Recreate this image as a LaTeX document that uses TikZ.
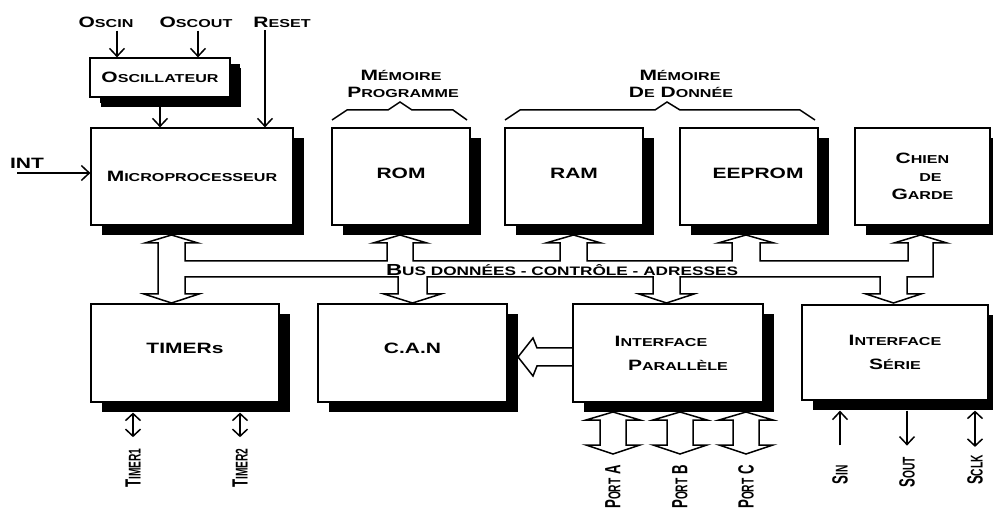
\documentclass[tikz,border=0pt]{standalone}
\usepackage{fontspec}
\setmainfont{Liberation Sans}
\newfontfamily\wf{Liberation Sans}[FakeStretch=1.4]
\newfontfamily\nf{Liberation Sans}[FakeStretch=0.6]
\usetikzlibrary{arrows.meta,shadows}
\newcommand\sm[1]{{\fontsize{11.5}{14}\selectfont #1}}
\newcommand\bsm[1]{{\fontsize{12.3}{14}\selectfont #1}}
\newcommand\nsm[1]{{\fontsize{17}{20}\selectfont #1}}
\tikzset{
  txt/.style={font=\wf\bfseries\fontsize{15}{18}\selectfont, inner sep=0pt},
  rot/.style={font=\nf\bfseries\fontsize{22}{24}\selectfont, inner sep=0pt, rotate=90},
  box/.style={txt, draw, line width=1.2pt, fill=white, align=center,
    drop shadow={shadow xshift=11pt, shadow yshift=-10pt, opacity=1, fill=black}},
  pipe/.style={line width=1.5pt, line join=miter},
  brace/.style={line width=1.5pt},
  arr/.style={line width=1.5pt, -{Straight Barb[length=8pt,width=15pt,line width=1.5pt]}},
  darr/.style={line width=1.5pt, {Straight Barb[length=7pt,width=15pt,line width=1.5pt]}-{Straight Barb[length=7pt,width=15pt,line width=1.5pt]}},
}
\begin{document}
\begin{tikzpicture}[x=1pt,y=-1pt]
\useasboundingbox (0,0) rectangle (993,510);

% boxes
\node[box, minimum width=140pt, minimum height=39pt,
      drop shadow={shadow xshift=10pt, shadow yshift=-6pt, opacity=1, fill=black}] (osc) at (160,77.5) {O\sm{SCILLATEUR}};
\node[box, minimum width=202pt, minimum height=97pt] (mp) at (192,176.5) {M\sm{ICROPROCESSEUR}};
\node[box, minimum width=138pt, minimum height=97pt] (rom) at (401,176.5) {\raisebox{6pt}{ROM}};
\node[box, minimum width=138pt, minimum height=97pt] (ram) at (574,176.5) {\raisebox{6pt}{RAM}};
\node[box, minimum width=138pt, minimum height=97pt] (eeprom) at (749,176.5) {\hspace*{18pt}\raisebox{6pt}{EEPROM}};
\node[box, minimum width=135pt, minimum height=97pt] (chien) at (922.5,176.5) {C\sm{HIEN}\\[0pt]\hspace*{16pt}\sm{DE}\\[0pt]G\sm{ARDE}};
\node[box, minimum width=188pt, minimum height=98pt] (timers) at (185,353) {\raisebox{10pt}{TIMERs}};
\node[box, minimum width=189pt, minimum height=98pt] (can) at (412.5,353) {\raisebox{10pt}{C.A.N}};
\node[box, minimum width=190pt, minimum height=98pt] (par) at (668,353) {I\sm{NTERFACE}\hspace*{14pt}\\[6pt]\hspace*{20pt}P\sm{ARALLÈLE}};
\node[box, minimum width=186pt, minimum height=95pt] (serie) at (895,352.5) {I\sm{NTERFACE}\\[6pt]S\sm{ÉRIE}};

% top labels
\node[txt] (oscin) at (106,22) {O\sm{SCIN}};
\node[txt] (oscout) at (196,22) {O\sm{SCOUT}};
\node[txt] (reset) at (282,22) {R\sm{ESET}};
\node[txt] (int) at (27,163) {INT};
\node[txt] (memp1) at (401,75) {M\sm{ÉMOIRE}};
\node[txt] (memp2) at (403,92) {P\sm{ROGRAMME}};
\node[txt] (memd1) at (680,75) {M\sm{ÉMOIRE}};
\node[txt] (memd2) at (681,92) {D\sm{E} D\sm{ONNÉE}};

% braces
\draw[brace] (332,120) -- (347,110) -- (388,110) -- (400,102) -- (412,110) -- (453,110) -- (467,120);
\draw[brace] (505,120) -- (520,110) -- (655,110) -- (667,102) -- (680,110) -- (800,110) -- (815,120);

% thin arrows at top
\draw[arr] ([xshift=11pt,yshift=-3pt]oscin.south) -- ([xshift=-43pt]osc.north);
\draw[arr] ([xshift=2pt,yshift=-3pt]oscout.south) -- ([xshift=38pt]osc.north);
\draw[arr] ([xshift=-17pt,yshift=-3pt]reset.south) -- ([xshift=73pt]mp.north);
\draw[arr] ([yshift=-5pt]osc.south) -- (osc.south |- mp.north);
\coordinate (intstart) at (17,173);
\draw[arr] (intstart) -- ([yshift=3.5pt]mp.west);

% bus pipe
\draw[pipe] (158,243) -- (145,243) -- (171.5,235) -- (198,243) -- (185,243) -- (185,261)
  -- (387,261) -- (387,243) -- (373,243) -- (400,235) -- (427,243) -- (413,243) -- (413,261)
  -- (560,261) -- (560,243) -- (546,243) -- (573.5,235) -- (601,243) -- (587,243) -- (587,261)
  -- (732,261) -- (732,243) -- (718,243) -- (746,235) -- (774,243) -- (760,243) -- (760,261)
  -- (908,261) -- (908,243) -- (894,243) -- (920.5,235) -- (947,243) -- (933,243) -- (933,277)
  -- (907,277) -- (907,294) -- (921,294) -- (893.5,303) -- (866,294) -- (880,294) -- (880,277)
  -- (680,277) -- (680,294) -- (694,294) -- (666.5,303) -- (639,294) -- (653,294) -- (653,277)
  -- (427,277) -- (427,294) -- (441,294) -- (412.5,303) -- (384,294) -- (398,294) -- (398,277)
  -- (185,277) -- (185,294) -- (199,294) -- (171.5,303) -- (144,294) -- (158,294) -- cycle;
\node[txt, font=\wf\bfseries\fontsize{16}{18}\selectfont] (bus) at (562,270) {B\bsm{US DONNÉES - CONTRÔLE - ADRESSES}};

% parallel -> CAN hollow arrow
\draw[pipe] (par.west |- 0,348) -- (537,348) -- (533,338) -- (518,357) -- (533,376) -- (537,366) -- (par.west |- 0,366);

% port arrows
\foreach \c in {613,680,746}{
  \draw[pipe] ({\c-13},420) -- ({\c-27},420) -- (\c,412) -- ({\c+27},420) -- ({\c+13},420)
    -- ({\c+13},445) -- ({\c+27},445) -- (\c,454) -- ({\c-27},445) -- ({\c-13},445) -- cycle;
}

% bottom labels
\node[rot] (t1) at (133,468) {T\nsm{IMER1}};
\node[rot] (t2) at (240,468) {T\nsm{IMER2}};
\node[rot] (pa) at (613,487) {P\nsm{ORT} A};
\node[rot] (pb) at (680,487) {P\nsm{ORT} B};
\node[rot] (pc) at (746,487) {P\nsm{ORT} C};
\node[rot] (sin) at (840,475) {S\nsm{IN}};
\node[rot] (sout) at (907,472) {S\nsm{OUT}};
\node[rot] (sclk) at (975,470) {S\nsm{CLK}};

% bottom thin arrows
\draw[darr] ([xshift=-52pt,yshift=-10pt]timers.south) -- ([yshift=11pt]t1.east);
\draw[darr] ([xshift=55pt,yshift=-10pt]timers.south) -- ([yshift=11pt]t2.east);
\draw[arr] ([yshift=20pt]sin.east) -- ([xshift=-55pt,yshift=-10pt]serie.south);
\draw[arr] ([xshift=12pt,yshift=-10pt]serie.south) -- ([yshift=11pt]sout.east);
\draw[darr] ([xshift=80pt,yshift=-10pt]serie.south) -- ([yshift=8pt]sclk.east);
\end{tikzpicture}
\end{document}
